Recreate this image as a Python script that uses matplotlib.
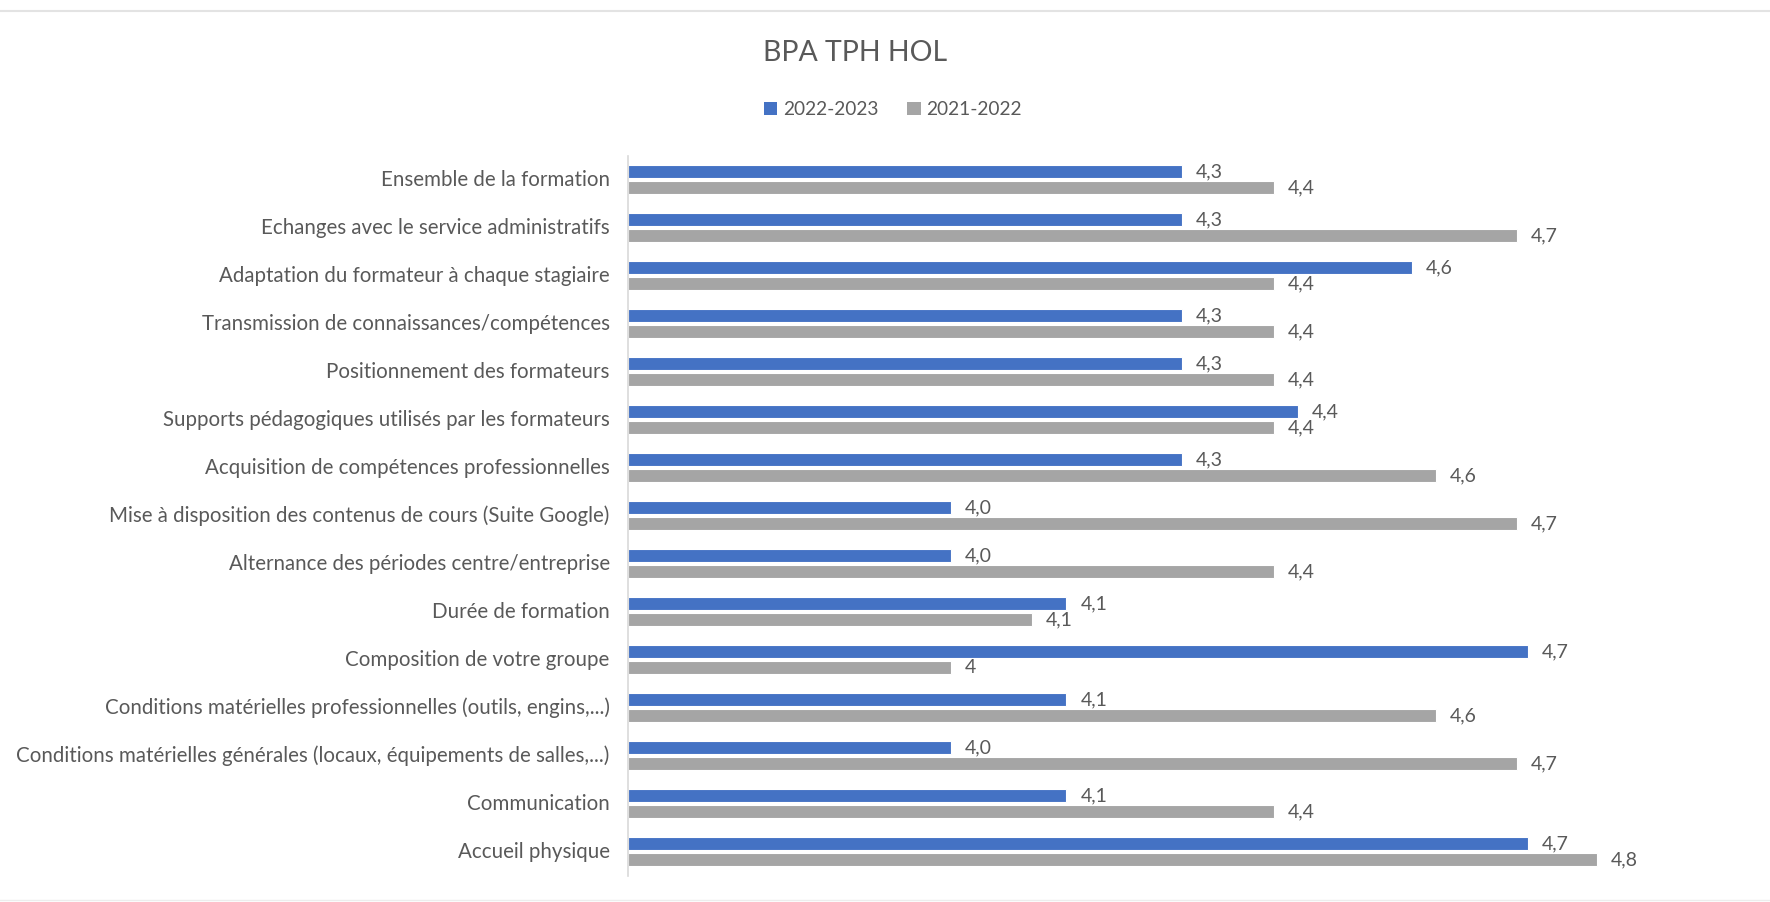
import matplotlib
matplotlib.use("Agg")
import matplotlib.pyplot as plt
from matplotlib.patches import Patch
from matplotlib.lines import Line2D
import numpy as np

plt.rcParams['font.family'] = ['Lato', 'DejaVu Sans']

# Data
categories = [
    "Ensemble de la formation",
    "Echanges avec le service administratifs",
    "Adaptation du formateur à chaque stagiaire",
    "Transmission de connaissances/compétences",
    "Positionnement des formateurs",
    "Supports pédagogiques utilisés par les formateurs",
    "Acquisition de compétences professionnelles",
    "Mise à disposition des contenus de cours (Suite Google)",
    "Alternance des périodes centre/entreprise",
    "Durée de formation",
    "Composition de votre groupe",
    "Conditions matérielles professionnelles (outils, engins,...)",
    "Conditions matérielles générales (locaux, équipements de salles,...)",
    "Communication",
    "Accueil physique",
]
series_names = ["2022-2023", "2021-2022"]
values_2223 = [4.286, 4.286, 4.571, 4.286, 4.286, 4.429, 4.286, 4.0, 4.0, 4.143, 4.714, 4.143, 4.0, 4.143, 4.714]
values_2122 = [4.4, 4.7, 4.4, 4.4, 4.4, 4.4, 4.6, 4.7, 4.4, 4.1, 4.0, 4.6, 4.7, 4.4, 4.8]
labels_2223 = ["4,3", "4,3", "4,6", "4,3", "4,3", "4,4", "4,3", "4,0", "4,0", "4,1", "4,7", "4,1", "4,0", "4,1", "4,7"]
labels_2122 = ["4,4", "4,7", "4,4", "4,4", "4,4", "4,4", "4,6", "4,7", "4,4", "4,1", "4", "4,6", "4,7", "4,4", "4,8"]

BLUE = "#4472C4"
GREY = "#A5A5A5"
TEXT = "#595959"

fig = plt.figure(figsize=(17.7, 9.02), dpi=100)
ax = fig.add_axes([627.7 / 1770, 1 - 875.5 / 902, (1759 - 627.7) / 1770, 720 / 902])

y = np.arange(len(categories))
h = 0.28
off = 0.165
xmin = 3.6

bars1 = ax.barh(y - off, np.array(values_2223) - xmin, height=h, left=xmin,
                color=BLUE, edgecolor="white", linewidth=0.8, label=series_names[0])
bars2 = ax.barh(y + off, np.array(values_2122) - xmin, height=h, left=xmin,
                color=GREY, edgecolor="white", linewidth=0.8, label=series_names[1])

ax.bar_label(bars1, labels=labels_2223, padding=10, fontsize=14, color=TEXT)
ax.bar_label(bars2, labels=labels_2122, padding=10, fontsize=14, color=TEXT)

ax.set_xlim(xmin, 5.0)
ax.set_ylim(len(categories) - 0.5, -0.5)
ax.set_yticks(y - 0.04)
ax.set_yticklabels(categories, fontsize=14.8, color=TEXT)
ax.tick_params(axis="y", length=0, pad=13)
ax.set_xticks([])
for side in ["top", "right", "bottom"]:
    ax.spines[side].set_visible(False)
ax.spines["left"].set_color("#D9D9D9")
ax.spines["left"].set_linewidth(1.2)

fig.text(855 / 1770, 1 - 53 / 902, "BPA TPH HOL", ha="center", va="center",
         fontsize=20.5, color=TEXT)

handles = [Patch(facecolor=BLUE), Patch(facecolor=GREY)]
fig.legend(handles, series_names, loc="center", bbox_to_anchor=(893 / 1770, 1 - 109.5 / 902),
           ncol=2, frameon=False, fontsize=13.8, handlelength=0.7, handleheight=0.7,
           handletextpad=0.3, columnspacing=1.5, labelcolor=TEXT)

# thin frame lines at top and bottom of the chart area
fig.add_artist(Line2D([0, 1], [1 - 11 / 902, 1 - 11 / 902], color="#E3E3E3", linewidth=1.5))
fig.add_artist(Line2D([0, 1], [1 - 900 / 902, 1 - 900 / 902], color="#EDEDED", linewidth=1.0))

fig.savefig("out.png", dpi=100, facecolor="white")
